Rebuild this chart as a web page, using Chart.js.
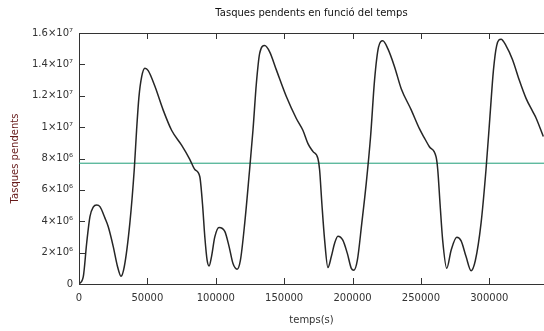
<!DOCTYPE html>
<html>
<head>
<meta charset="utf-8">
<script src="https://cdn.jsdelivr.net/npm/chart.js@4/dist/chart.umd.min.js"></script>
<style>
  html, body { margin: 0; padding: 0; background: #fff; }
  #wrap { width: 544px; height: 331px; }
</style>
</head>
<body>
<div id="wrap"><canvas id="taskChart" width="544" height="331"></canvas></div>
<script>
// --- DATA ---
// time in seconds, pending tasks in millions
const timeSec = [
  0, 3100, 5600, 8000, 10400, 12900, 15300, 19000, 21400, 25000, 28200, 30700,
  33100, 37200, 40400, 42100, 43800, 45800, 48200, 50600, 55500, 61500, 67700,
  75000, 81000, 84700, 88300, 90300, 92000, 93700, 95100, 96900, 99300, 102400,
  106600, 109700, 112600, 115600, 118000, 121200, 124300, 127200, 129700, 132100,
  135800, 139400, 144300, 151600, 158900, 163700, 167400, 171000, 174700, 175900,
  177600, 179600, 182000, 184500, 186900, 189300, 192900, 196200, 199100, 201000,
  203500, 206800, 210000, 213200, 216100, 219000, 222100, 225800, 230700, 235600,
  242900, 248900, 252300, 256200, 261100, 262300, 264000, 265900, 268900, 272100,
  276200, 279400, 283000, 286700, 289800, 294000, 297600, 300500, 303000, 305400,
  308600, 312200, 317000, 321900, 326800, 331700, 334100, 339500
];
const pendingM = [
  0, 0.45, 2.6, 4.3, 4.9, 5.03, 4.93, 4.2, 3.65, 2.4, 1.1, 0.5,
  1.1, 3.9, 7.3, 9.8, 11.9, 13.2, 13.75, 13.6, 12.6, 11.1, 9.8,
  8.85, 7.95, 7.3, 6.85, 5.1, 3.0, 1.5, 1.15, 1.75, 3.0, 3.6,
  3.35, 2.4, 1.3, 0.94, 1.5, 3.9, 6.85, 9.8, 12.8, 14.7,
  15.2, 14.8, 13.65, 11.95, 10.55, 9.8, 8.95, 8.45, 8.0, 7.3,
  5.1, 2.8, 1.05, 1.75, 2.6, 3.05, 2.8, 1.95, 1.0, 0.88,
  1.5, 3.9, 6.4, 9.4, 13.0, 15.1, 15.5, 15.0, 13.85, 12.45,
  11.1, 9.9, 9.35, 8.75, 8.1, 7.3, 5.1, 2.8, 1.0, 2.15,
  2.98, 2.75, 1.75, 0.85, 1.5, 3.9, 7.3, 10.7, 13.6, 15.2,
  15.6, 15.2, 14.3, 13.0, 11.85, 11.0, 10.6, 9.4
];
// horizontal reference level
const refLevel = 7.7e6;
const xRange = [0, 340000];
const yRange = [0, 1.6e7];
const xTickValues = [0, 50000, 100000, 150000, 200000, 250000, 300000];
const yTickValues = [0, 2e6, 4e6, 6e6, 8e6, 1e7, 1.2e7, 1.4e7, 1.6e7];

const supDigits = { '0': '⁰', '1': '¹', '2': '²', '3': '³', '4': '⁴', '5': '⁵', '6': '⁶', '7': '⁷', '8': '⁸', '9': '⁹' };

// 1.2e7 -> "1.2×10⁷"
function sciLabel(v) {
  if (v === 0) return '0';
  const exp = Math.floor(Math.log10(v) + 1e-9);
  const mant = +(v / Math.pow(10, exp)).toFixed(2);
  const sup = String(exp).split('').map(d => supDigits[d]).join('');
  return mant + '×10' + sup;
}

// inward tick marks + top frame line
const frameTicks = {
  id: 'frameTicks',
  afterDatasetsDraw(chart) {
    const { ctx, chartArea: a, scales: { x, y } } = chart;
    ctx.save();
    ctx.strokeStyle = '#333';
    ctx.lineWidth = 1;
    ctx.beginPath();
    ctx.moveTo(a.left, a.top + 0.5);
    ctx.lineTo(a.right, a.top + 0.5);
    x.ticks.forEach(t => {
      const px = Math.round(x.getPixelForValue(t.value)) + 0.5;
      ctx.moveTo(px, a.bottom);
      ctx.lineTo(px, a.bottom - 6);
      ctx.moveTo(px, a.top);
      ctx.lineTo(px, a.top + 6);
    });
    y.ticks.forEach(t => {
      const py = Math.round(y.getPixelForValue(t.value)) + 0.5;
      ctx.moveTo(a.left, py);
      ctx.lineTo(a.left + 6, py);
    });
    ctx.stroke();
    ctx.restore();
  }
};

const font = 'DejaVu Sans';

new Chart(document.getElementById('taskChart'), {
  type: 'line',
  data: {
    datasets: [
      {
        label: 'Tasques pendents',
        data: timeSec.map((t, i) => ({ x: t, y: pendingM[i] * 1e6 })),
        borderColor: '#262626',
        borderWidth: 1.5,
        cubicInterpolationMode: 'monotone',
        pointRadius: 0,
        fill: false
      },
      {
        label: 'nivell',
        data: [{ x: xRange[0], y: refLevel }, { x: xRange[1], y: refLevel }],
        borderColor: '#1f9e78',
        borderWidth: 1,
        pointRadius: 0,
        fill: false
      }
    ]
  },
  options: {
    responsive: false,
    animation: false,
    layout: { padding: 0 },
    plugins: {
      legend: { display: false },
      tooltip: { enabled: false },
      title: {
        display: true,
        text: 'Tasques pendents en funció del temps',
        fullSize: false,
        color: '#111',
        font: { family: font, size: 10, weight: 'normal', lineHeight: 1.2 },
        padding: { top: 7, bottom: 14 }
      }
    },
    scales: {
      x: {
        type: 'linear',
        min: xRange[0],
        max: xRange[1],
        grid: { display: false, drawTicks: false },
        border: { display: true, color: '#333', width: 1 },
        afterBuildTicks: s => { s.ticks = xTickValues.map(v => ({ value: v })); },
        ticks: {
          autoSkip: false,
          maxRotation: 0,
          padding: 8,
          color: '#333',
          font: { family: font, size: 10 },
          callback: v => String(v)
        },
        title: {
          display: true,
          text: 'temps(s)',
          color: '#333',
          font: { family: font, size: 10 },
          padding: { top: 0, bottom: 5 }
        },
        afterFit: s => { s.height = 47; }
      },
      y: {
        min: yRange[0],
        max: yRange[1],
        grid: { display: false, drawTicks: false },
        border: { display: true, color: '#333', width: 1 },
        afterBuildTicks: s => { s.ticks = yTickValues.map(v => ({ value: v })); },
        ticks: {
          padding: 6,
          color: '#333',
          font: { family: font, size: 10 },
          callback: v => sciLabel(v)
        },
        title: {
          display: true,
          text: 'Tasques pendents',
          color: '#661a1a',
          font: { family: font, size: 10 },
          padding: { top: 9, bottom: 0 }
        },
        afterFit: s => { s.width = 79; }
      }
    }
  },
  plugins: [frameTicks]
});
</script>
</body>
</html>
